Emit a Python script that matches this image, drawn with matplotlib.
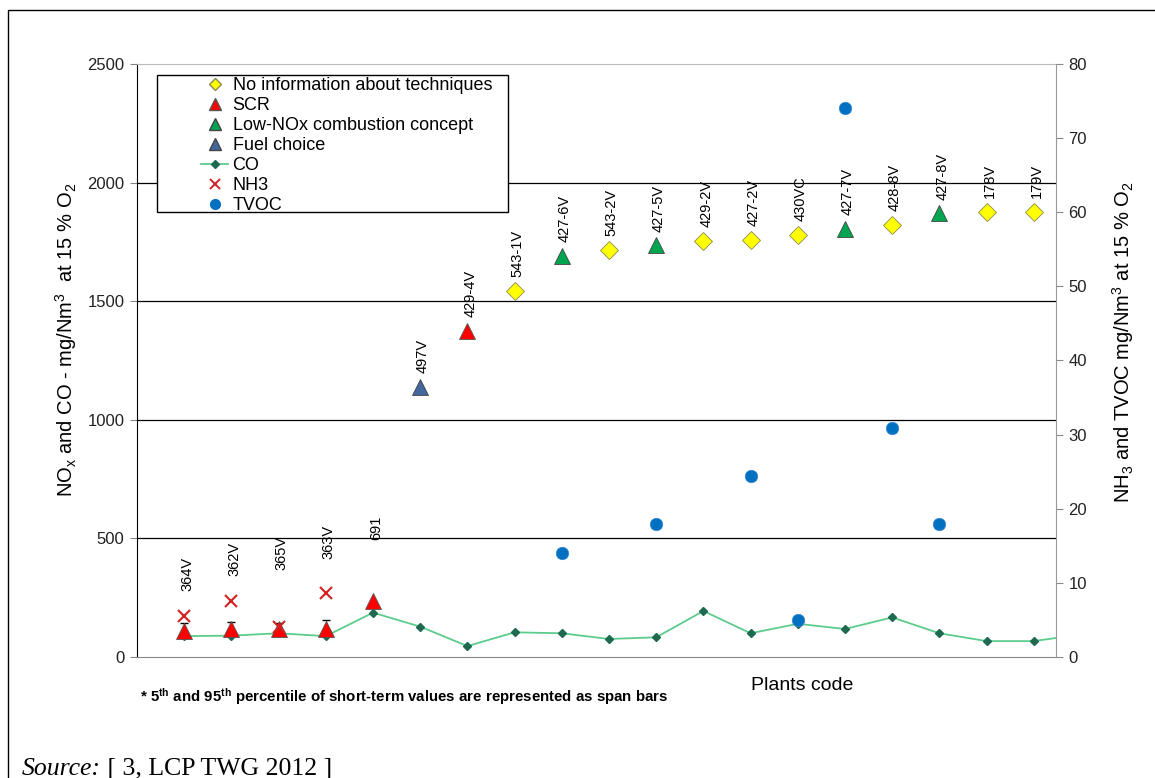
import numpy as np
import matplotlib
matplotlib.use("Agg")
import matplotlib.pyplot as plt
from matplotlib import font_manager
from matplotlib.lines import Line2D
from matplotlib.patches import Rectangle

# Daten: Anlagen, Techniken, Werte
plants = ["364V", "362V", "365V", "363V", "691", "497V", "429-4V", "543-1V", "427-6V",
          "543-2V", "427-5V", "429-2V", "427-2V", "430VC", "427-7V", "428-8V", "427-8V",
          "178V", "179V"]
technique = ["SCR", "SCR", "SCR", "SCR", "SCR", "Fuel choice", "SCR", "No info", "Low-NOx",
             "No info", "Low-NOx", "No info", "No info", "No info", "Low-NOx", "No info",
             "Low-NOx", "No info", "No info"]
nox = [110, 120, 120, 120, 235, 1140, 1375, 1545, 1690, 1715, 1735, 1755, 1760, 1780,
       1805, 1820, 1870, 1875, 1875]
# 5. und 95. Perzentil (nur erste vier Anlagen)
nox_p5 = [90, 100, 100, 100]
nox_p95 = [143, 148, 145, 156]
# CO geht einen Punkt ueber den Achsenrand hinaus
co = [88, 90, 100, 88, 187, 128, 46, 104, 100, 76, 83, 194, 100, 140, 118, 167, 100, 67, 67, 95]
nh3 = [5.5, 7.6, 4.1, 8.6] + [np.nan] * 15
tvoc = [np.nan] * 8 + [14, np.nan, 18, np.nan, 24.4, 5.0, 74.1, 30.9, 18, np.nan, np.nan]

# Abstand der Beschriftung ueber dem Marker (Punkte)
label_offset = [29, 38, 42, 50, 44] + [10] * 14

names = {f.name for f in font_manager.fontManager.ttflist}
narrow = "Liberation Sans Narrow" if "Liberation Sans Narrow" in names else "Liberation Sans"
note_size = 10 if narrow == "Liberation Sans Narrow" else 10.8

plt.rcParams["font.family"] = "Liberation Sans"
plt.rcParams["mathtext.fontset"] = "custom"
plt.rcParams["mathtext.rm"] = "Liberation Sans"
plt.rcParams["mathtext.it"] = "Liberation Sans:italic"
plt.rcParams["mathtext.bf"] = narrow + ":bold"

styles = {
    "No info": dict(marker="D", ms=9, mfc="#ffff00", mec="#8a8a50"),
    "SCR": dict(marker="^", ms=12, mfc="#ff0000", mec="#555555"),
    "Low-NOx": dict(marker="^", ms=12, mfc="#00a550", mec="#444444"),
    "Fuel choice": dict(marker="^", ms=12, mfc="#41679c", mec="#444444"),
}

x = np.arange(1, len(plants) + 1)
x_co = np.arange(1, len(co) + 1)
nox_arr = np.array(nox)
tech_arr = np.array(technique)

fig = plt.figure(figsize=(11.55, 7.78), dpi=100)
ax = fig.add_axes([137 / 1155, 121 / 778, 919 / 1155, 593 / 778])
ax2 = ax.twinx()

# Fehlerbalken
ax.errorbar(x[:4], nox_arr[:4], yerr=[nox_arr[:4] - np.array(nox_p5), np.array(nox_p95) - nox_arr[:4]],
            fmt="none", ecolor="black", elinewidth=0.8, capsize=3, zorder=3)

ax.plot(x_co, co, color="#5ccc8c", lw=1.3, marker="D", ms=4, mfc="#1e6a50", mec="#1e6a50", zorder=3)

for tech, st in styles.items():
    m = tech_arr == tech
    ax.plot(x[m], nox_arr[m], ls="none", mew=0.6, zorder=4, **st)

for i, name in enumerate(plants):
    ax.annotate(name, (x[i], nox[i]), xytext=(2, label_offset[i]), textcoords="offset points",
                rotation=90, ha="center", va="bottom", fontsize=10.5, zorder=5)

ax2.plot(x, nh3, ls="none", marker="x", ms=9, mew=1.5, color="#d42020", zorder=4)
ax2.plot(x, tvoc, ls="none", marker="o", ms=9, mfc="#0070c0", mec="#3a8ad0", mew=0.5, zorder=4)

ax.set_xlim(0, 19.47)
ax.set_ylim(0, 2500)
ax2.set_ylim(0, 80)
ax.set_xticks([])
ax.set_yticks(range(0, 2501, 500))
ax2.set_yticks(range(0, 81, 10))
for a in (ax, ax2):
    a.tick_params(axis="y", direction="out", length=5, width=0.8, color="#888888",
                  labelsize=12, labelcolor="#222222", pad=4)

ax.yaxis.grid(True, color="black", lw=0.9)
ax.set_axisbelow(True)
gl = ax.get_ygridlines()
gl[0].set_visible(False)
gl[-1].set_visible(False)

ax.spines["left"].set_color("black")
ax.spines["bottom"].set_color("#888888")
ax.spines["top"].set_color("#bbbbbb")
ax.spines["right"].set_visible(False)
for s in ("left", "top", "bottom"):
    ax2.spines[s].set_visible(False)
ax2.spines["right"].set_color("#999999")

# Legende
ax2.add_patch(Rectangle((0.0218, 0.7504), 0.3819, 0.2311, transform=ax2.transAxes,
                        fc="white", ec="black", lw=1, zorder=5))
handles = [
    Line2D([], [], ls="none", marker="D", ms=6, mfc="#ffff00", mec="#8a8a50"),
    Line2D([], [], ls="none", marker="^", ms=8, mfc="#ff0000", mec="#555555"),
    Line2D([], [], ls="none", marker="^", ms=8, mfc="#00a550", mec="#444444"),
    Line2D([], [], ls="none", marker="^", ms=8, mfc="#41679c", mec="#444444"),
    Line2D([], [], color="#5ccc8c", lw=1.3, marker="D", ms=4, mfc="#1e6a50", mec="#1e6a50"),
    Line2D([], [], ls="none", marker="x", ms=7, mew=1.4, color="#d42020"),
    Line2D([], [], ls="none", marker="o", ms=7, mfc="#0070c0", mec="#0070c0"),
]
labels = ["No information about techniques", "SCR", "Low-NOx combustion concept", "Fuel choice",
          "CO", "NH3", "TVOC"]
leg = ax2.legend(handles, labels, loc="upper left", bbox_to_anchor=(0.0696, 0.978), frameon=False,
                 borderaxespad=0, borderpad=0, handlelength=1.5, handletextpad=0.25,
                 labelspacing=0.17, fontsize=13)
leg.set_zorder(6)

fig.text(66 / 1155, 1 - 340 / 778, r"NO$_\mathrm{x}$ and CO - mg/Nm$^3$  at 15 % O$_2$",
         rotation=90, ha="center", va="center", fontsize=14.5)
fig.text(1123 / 1155, 1 - 342 / 778, r"NH$_3$ and TVOC mg/Nm$^3$ at 15 % O$_2$",
         rotation=90, ha="center", va="center", fontsize=14.5)
fig.text(802 / 1155, 1 - 686 / 778, "Plants code", ha="center", va="center", fontsize=14)
fig.text(140 / 1155, 1 - 697 / 778,
         r"* 5$^{\mathbf{th}}$ and 95$^{\mathbf{th}}$ percentile of short-term values are represented as span bars",
         ha="left", va="center", fontsize=note_size, fontweight="bold", family=narrow)

# Rahmen und Quelle
fig.add_artist(Rectangle((8 / 1155, -0.05), 1.05, 1.05 - 10 / 778, transform=fig.transFigure,
                         fill=False, ec="black", lw=1))
t1 = fig.text(22 / 1155, 3 / 778, "Source:", family="Liberation Serif", style="italic",
              fontsize=18.5, va="baseline", ha="left")
ax.annotate(" [ 3, LCP TWG 2012 ]", xy=(1, 0), xycoords=t1, va="bottom", ha="left",
            family="Liberation Serif", fontsize=18.5, annotation_clip=False)

fig.savefig("out.png", dpi=100)
